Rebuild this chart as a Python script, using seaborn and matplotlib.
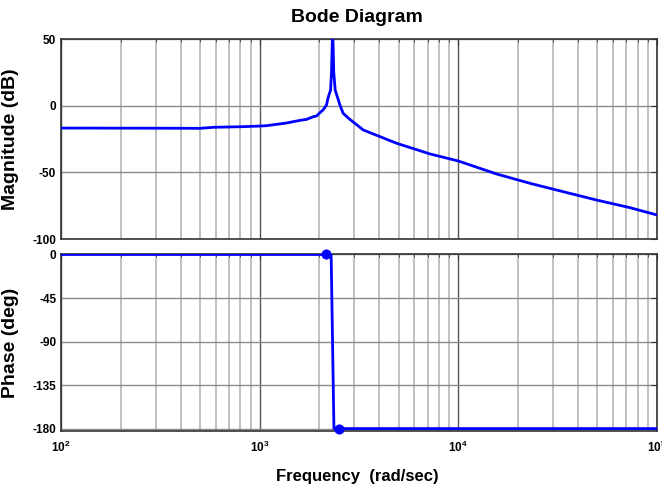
import matplotlib
matplotlib.use('Agg')
import matplotlib.pyplot as plt
import seaborn as sns
import numpy as np
import pandas as pd
from matplotlib import font_manager
from matplotlib.ticker import FixedLocator, FuncFormatter, LogLocator, NullFormatter

# ---------------- data ----------------
mag_freq = [100, 316, 500, 590, 800, 1000, 1085, 1365, 1600, 1720, 1860, 1930,
            2090, 2170, 2215, 2275, 2300, 2330, 2360, 2400, 2535, 2630, 2830,
            3320, 4890, 7200, 10000, 15560, 22900, 33700, 49700, 73100, 100000]
mag_db = [-16.8, -16.9, -17.0, -16.2, -15.8, -15.3, -15.0, -13.0, -11.0, -10.3,
          -8.3, -7.8, -3.0, 0.5, 6.5, 11.7, 25, 60, 25, 11.7, 0.5, -5.7, -10.0,
          -18.2, -28.2, -36.2, -41.5, -51.2, -58.2, -64.5, -70.8, -76.5, -82.0]

phase_freq = [100, 2150, 2290, 2365, 100000]
phase_deg = [0, 0, -0.5, -180, -180]

marker_freq = [2160, 2505]
marker_deg = [0, -180]

mag_ticks = [50, 0, -50, -100]
phase_ticks = [0, -45, -90, -135, -180]
x_decades = [100, 1000, 10000, 100000]

title = "Bode Diagram"
mag_label = "Magnitude (dB)"
phase_label = "Phase (deg)"
freq_label = "Frequency  (rad/sec)"

# ---------------- style ----------------
sns.set_style('white')
names = {f.name for f in font_manager.fontManager.ttflist}
fam = 'Liberation Sans Narrow' if 'Liberation Sans Narrow' in names else 'Liberation Sans'
plt.rcParams['font.family'] = [fam, 'DejaVu Sans']
plt.rcParams['font.weight'] = 'bold'
plt.rcParams['text.color'] = 'black'
plt.rcParams['axes.labelcolor'] = 'black'
plt.rcParams['mathtext.fontset'] = 'custom'
plt.rcParams['mathtext.rm'] = fam + ':bold'
plt.rcParams['mathtext.bf'] = fam + ':bold'
plt.rcParams['mathtext.it'] = fam + ':bold'

BLUE = '#0000ff'

fig = plt.figure(figsize=(6.62, 4.9), dpi=100)
W, H = 662.0, 490.0
def rect(l, t, r, b):
    return [l / W, 1 - b / H, (r - l) / W, (b - t) / H]

ax1 = fig.add_axes(rect(61, 39, 657, 239))
ax2 = fig.add_axes(rect(61, 254, 657, 431))

df_mag = pd.DataFrame({'freq': mag_freq, 'mag': mag_db})
df_ph = pd.DataFrame({'freq': phase_freq, 'phase': phase_deg})
df_mk = pd.DataFrame({'freq': marker_freq, 'phase': marker_deg})

sns.lineplot(data=df_mag, x='freq', y='mag', ax=ax1, color=BLUE, lw=2,
             estimator=None, sort=False, zorder=5)
sns.lineplot(data=df_ph, x='freq', y='phase', ax=ax2, color=BLUE, lw=2,
             estimator=None, sort=False, zorder=5)
sns.scatterplot(data=df_mk, x='freq', y='phase', ax=ax2, color=BLUE, s=45,
                edgecolor=BLUE, zorder=6, clip_on=False)

for ax in (ax1, ax2):
    ax.set_xscale('log')
    ax.set_xlim(100, 100000)
    ax.xaxis.set_major_locator(FixedLocator(x_decades))
    ax.xaxis.set_minor_locator(LogLocator(base=10, subs=np.arange(2, 10)))
    ax.xaxis.set_minor_formatter(NullFormatter())
    ax.grid(True, which='major', axis='x', color='#555555', lw=1.0)
    ax.grid(True, which='minor', axis='x', color='#b5b5b5', lw=1.2)
    ax.grid(True, which='major', axis='y', color='#8a8a8a', lw=1.0)
    ax.tick_params(which='both', direction='in', top=True, right=True,
                   colors='#333333', labelcolor='black', labelsize=8.5)
    ax.tick_params(which='major', length=4)
    ax.tick_params(which='minor', length=2.5)
    for s in ax.spines.values():
        s.set_visible(True)
        s.set_color('#333333')
        s.set_linewidth(1.2)
    ax.set_xlabel('')
    ax.set_ylabel('')
    ax.set_axisbelow(True)

ax1.set_ylim(-100, 50)
ax1.yaxis.set_major_locator(FixedLocator(mag_ticks))
ax1.set_yticklabels([str(t) for t in mag_ticks], fontweight='bold')
ax1.tick_params(axis='x', labelbottom=False)

ax2.set_ylim(-182.5, 0.5)
ax2.yaxis.set_major_locator(FixedLocator(phase_ticks))
ax2.set_yticklabels([str(t) for t in phase_ticks], fontweight='bold')
ax2.xaxis.set_major_formatter(FuncFormatter(
    lambda v, p: r'$\mathbf{10^{%d}}$' % int(round(np.log10(v)))))
ax2.tick_params(axis='x', pad=6)

ax1.set_ylabel(mag_label, fontsize=14, fontweight='bold', color='black')
ax1.yaxis.set_label_coords(-0.07, 0.5)
ax2.set_ylabel(phase_label, fontsize=14, fontweight='bold', color='black')
ax2.yaxis.set_label_coords(-0.07, 0.5)

fig.text(357 / W, 1 - 18 / H, title, ha='center', va='center', fontsize=14,
         fontweight='bold', color='black')
fig.text(357 / W, 1 - 476 / H, freq_label, ha='center', va='center', fontsize=12,
         fontweight='bold', color='black')

fig.savefig('out.png', dpi=100)
